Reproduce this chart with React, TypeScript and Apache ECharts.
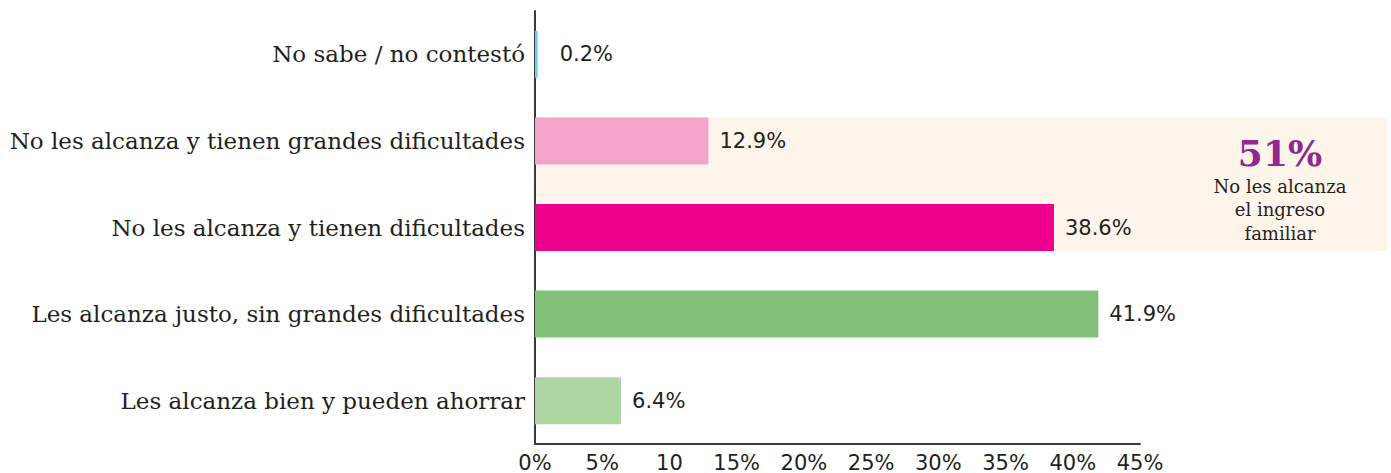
import React, { useEffect, useRef } from "react";
import * as echarts from "echarts";

const categories = [
  "No sabe / no contestó",
  "No les alcanza y tienen grandes dificultades",
  "No les alcanza y tienen dificultades",
  "Les alcanza justo, sin grandes dificultades",
  "Les alcanza bien y pueden ahorrar",
];
const values = [0.2, 12.9, 38.6, 41.9, 6.4];
const barColors = ["#6dcff6", "#f3a4c8", "#ec008c", "#82c07a", "#aed6a2"];
const tickLabels = ["0%", "5%", "10", "15%", "20%", "25%", "30%", "35%", "40%", "45%"];
const calloutValue = "51%";
const calloutLines = ["No les alcanza", "el ingreso", "familiar"];

const FONT = "'DejaVu Sans', sans-serif";
const SERIF = "'DejaVu Serif', serif";

export default function App() {
  const ref = useRef<HTMLDivElement>(null);
  useEffect(() => {
    document.body.style.margin = "0";
    const chart = echarts.init(ref.current!, undefined, { renderer: "svg" });
    chart.setOption({
      animation: false,
      grid: { left: 535, right: 251, top: 11, bottom: 27, containLabel: false },
      xAxis: {
        type: "value",
        min: 0,
        max: 45,
        interval: 5,
        splitLine: { show: false },
        axisTick: { show: false },
        axisLine: { show: true, lineStyle: { color: "#3a3a3a", width: 2 } },
        axisLabel: {
          color: "#231f20",
          fontFamily: FONT,
          fontSize: 21,
          margin: 8,
          formatter: (v: number) => tickLabels[Math.round(v / 5)] ?? "",
        },
      },
      yAxis: {
        type: "category",
        inverse: true,
        data: categories,
        axisTick: { show: false },
        axisLine: { show: true, lineStyle: { color: "#3a3a3a", width: 2 } },
        axisLabel: { color: "#231f20", fontFamily: SERIF, fontSize: 23, margin: 10 },
      },
      series: [
        {
          type: "bar",
          barWidth: 47,
          z: 5,
          data: values.map((v, i) => ({
            value: v,
            itemStyle: { color: barColors[i] },
            label: { distance: i === 0 ? 22 : 11 },
          })),
          label: {
            show: true,
            position: "right",
            distance: 11,
            color: "#231f20",
            fontFamily: FONT,
            fontSize: 21,
            formatter: (p: any) => `${Number(p.value).toFixed(1)}%`,
          },
        },
      ],
    });
    const y1 = chart.convertToPixel({ yAxisIndex: 0 }, categories[1]) as number;
    const y2 = chart.convertToPixel({ yAxisIndex: 0 }, categories[2]) as number;
    const x0 = chart.convertToPixel({ xAxisIndex: 0 }, 0) as number;
    const top = y1 - 23.5;
    const bottom = y2 + 23.5;
    chart.setOption({
      graphic: [
        {
          type: "rect",
          z: -10,
          shape: { x: x0 + 1, y: top, width: 1387 - x0 - 1, height: bottom - top },
          style: { fill: "#fdf4ea" },
        },
        {
          type: "text",
          z: 10,
          x: 1280,
          y: top + 36,
          style: {
            text: calloutValue,
            fill: "#92278f",
            font: `bold 36px ${SERIF}`,
            align: "center",
            verticalAlign: "middle",
          },
        },
        ...calloutLines.map((t, i) => ({
          type: "text",
          z: 10,
          x: 1280,
          y: top + 69 + i * 23.5,
          style: {
            text: t,
            fill: "#231f20",
            font: `18px ${SERIF}`,
            align: "center",
            verticalAlign: "middle",
          },
        })),
      ],
    });
    return () => chart.dispose();
  }, []);
  return <div ref={ref} style={{ width: 1391, height: 473 }} />;
}
